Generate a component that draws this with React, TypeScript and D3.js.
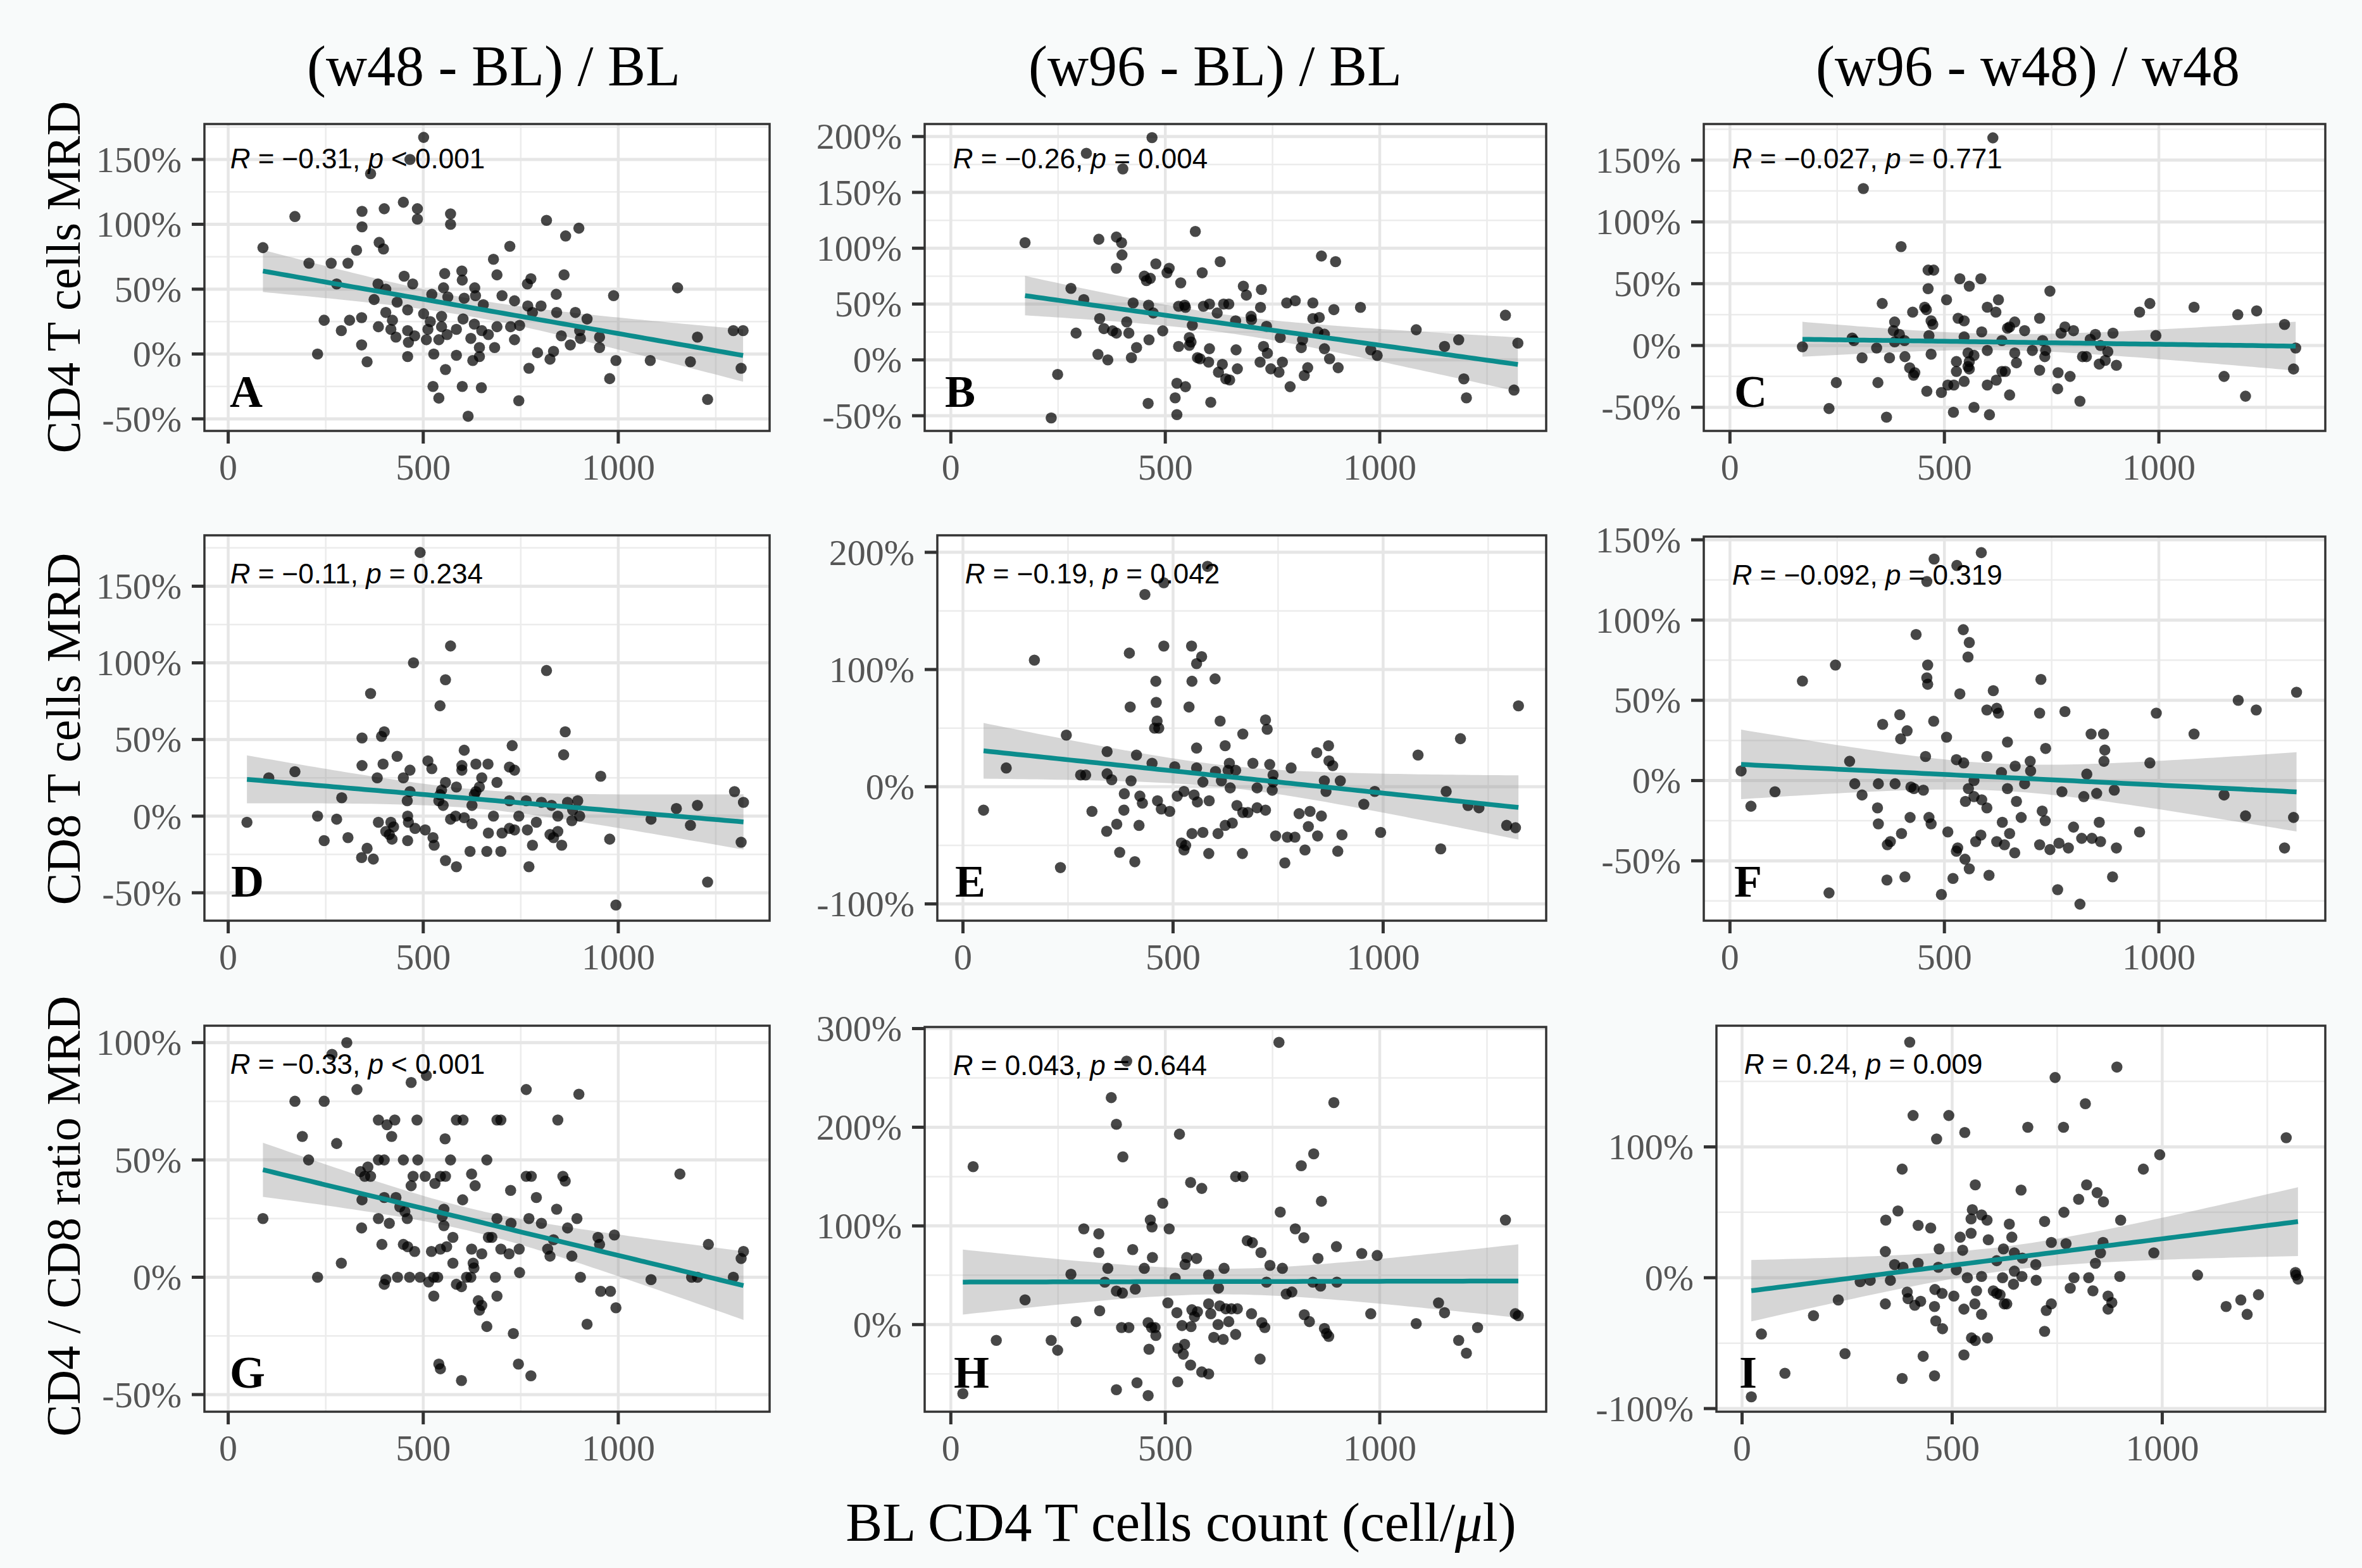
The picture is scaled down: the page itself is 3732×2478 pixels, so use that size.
import * as d3 from 'd3';

// ---- data ----
const X_DOMAIN: [number, number] = [-61, 1388];
const X_TICKS = [0, 500, 1000];
const X_MINOR = [250, 750, 1250];

const COL_TITLES = ['(w48 - BL) / BL', '(w96 - BL) / BL', '(w96 - w48) / w48'];
const ROW_LABELS = ['CD4 T cells MRD', 'CD8 T cells MRD', 'CD4 / CD8 ratio MRD'];
const X_TITLE = 'BL CD4 T cells count (cell/';
const PANEL_LETTERS = ['A', 'B', 'C', 'D', 'E', 'F', 'G', 'H', 'I'];
const STAT_R = ['−0.31', '−0.26', '−0.027', '−0.11', '−0.19', '−0.092', '−0.33', '0.043', '0.24'];
const STAT_P = ['< 0.001', '= 0.004', '= 0.771', '= 0.234', '= 0.042', '= 0.319', '< 0.001', '= 0.644', '= 0.009'];

const Y_DOMAINS: [number, number][] = [
  [-59.3, 177.3], [-63.6, 211.2], [-69.1, 179.2],
  [-68.2, 183.2], [-114.3, 214.5], [-87.3, 152],
  [-57.3, 107.2], [-88.3, 301.6], [-102.4, 192.6],
];
const Y_TICKS: number[][] = [
  [-50, 0, 50, 100, 150], [-50, 0, 50, 100, 150, 200], [-50, 0, 50, 100, 150],
  [-50, 0, 50, 100, 150], [-100, 0, 100, 200], [-50, 0, 50, 100, 150],
  [-50, 0, 50, 100], [0, 100, 200, 300], [-100, 0, 100],
];

type Pt = [number, number];

const ptsA: Pt[] = [
  [501, 167], [466, 150], [365, 139], [171, 106], [343, 110], [400, 112], [449, 117], [485, 112], [485, 104],
  [570, 108], [570, 100], [343, 98], [816, 103], [899, 97], [865, 91], [89, 82], [387, 86], [398, 81], [329, 80],
  [722, 83], [680, 73], [207, 70], [264, 70], [307, 70], [689, 61], [861, 61], [451, 60], [555, 62], [599, 64],
  [600, 57], [776, 58], [767, 54], [278, 54], [384, 54], [473, 54], [552, 51], [632, 51], [404, 50], [841, 46],
  [988, 45], [1152, 51], [374, 42], [522, 46], [563, 44], [605, 43], [634, 45], [702, 45], [734, 41], [433, 40],
  [460, 34], [501, 31], [654, 38], [768, 37], [802, 37], [780, 32], [842, 32], [890, 32], [920, 27], [404, 32],
  [342, 28], [311, 26], [246, 26], [290, 18], [385, 21], [421, 26], [417, 19], [430, 13], [460, 18], [462, 9],
  [478, 14], [518, 25], [547, 21], [561, 15], [540, 11], [585, 19], [602, 27], [631, 23], [622, 12], [650, 18],
  [667, 15], [689, 21], [724, 21], [747, 22], [734, 11], [683, 5], [644, 5], [854, 14], [877, 7], [903, 12],
  [952, 5], [834, 2], [793, 1], [901, 18], [952, 13], [342, 7], [229, 0], [356, -6], [460, -2], [527, 0],
  [585, -1], [627, -5], [644, -2], [557, -12], [771, -11], [825, -4], [994, -5], [1082, -5], [1185, -6],
  [1203, 13], [1295, 18], [1320, 18], [1315, -11], [978, -19], [525, -25], [600, -25], [649, -26], [540, -34],
  [745, -36], [1229, -35], [615, -48], [512, 19], [508, 11], [547, 29],
];

const ptsB: Pt[] = [
  [469, 199], [316, 185], [401, 171], [173, 105], [345, 108], [386, 110], [398, 105], [570, 115], [399, 94],
  [864, 93], [897, 88], [628, 88], [386, 82], [478, 86], [509, 82], [504, 78], [586, 78], [451, 75], [465, 73],
  [456, 71], [536, 69], [280, 64], [682, 66], [724, 63], [689, 58], [310, 54], [425, 51], [461, 49], [531, 48],
  [545, 49], [547, 47], [589, 48], [603, 50], [636, 50], [648, 50], [722, 47], [783, 51], [803, 53], [844, 51],
  [893, 45], [955, 47], [472, 42], [621, 42], [347, 37], [410, 34], [563, 31], [664, 35], [700, 39], [701, 36],
  [844, 37], [859, 38], [736, 30], [357, 28], [377, 26], [386, 24], [292, 24], [415, 24], [494, 26], [856, 25],
  [1085, 27], [768, 20], [820, 18], [871, 23], [462, 18], [556, 20], [560, 16], [556, 13], [1151, 12], [1184, 18],
  [1293, 40], [1322, 15], [433, 11], [421, 2], [343, 5], [366, 0], [531, 12], [603, 10], [665, 9], [729, 12],
  [738, 6], [817, 11], [871, 10], [979, 9], [994, 4], [575, 2], [581, 1], [601, -2], [633, -4], [668, -8],
  [624, -11], [641, -17], [650, -18], [721, -2], [746, -8], [765, -11], [773, -2], [832, -7], [824, -14], [883, 1],
  [903, -7], [791, -24], [249, -13], [527, -21], [547, -24], [523, -34], [460, -39], [606, -38], [527, -49],
  [234, -52], [1196, -17], [1202, -34], [1313, -27],
];

const ptsC: Pt[] = [
  [613, 168], [311, 127], [399, 80], [462, 61], [475, 61], [536, 54], [585, 54], [558, 48], [462, 46], [746, 44],
  [355, 34], [505, 37], [626, 37], [600, 31], [620, 27], [454, 31], [426, 27], [458, 29], [955, 27], [979, 34],
  [1082, 31], [1184, 25], [1228, 28], [722, 22], [532, 22], [546, 20], [384, 19], [469, 20], [473, 17], [664, 19],
  [652, 15], [647, 14], [687, 12], [781, 15], [801, 12], [772, 10], [852, 9], [893, 10], [993, 8], [1293, 17],
  [587, 11], [546, 7], [381, 12], [395, 9], [407, 4], [384, 3], [285, 6], [289, 4], [464, 8], [634, 4], [729, 4],
  [840, 5], [864, 0], [169, -1], [342, -2], [308, -10], [372, -10], [408, -9], [469, -7], [555, -6], [600, -4],
  [664, -6], [705, -4], [736, -4], [734, -9], [668, -14], [569, -8], [558, -13], [528, -13], [555, -17], [558, -19],
  [528, -21], [419, -18], [431, -22], [428, -24], [634, -21], [642, -21], [722, -20], [822, -9], [831, -9],
  [861, -15], [875, -12], [901, -16], [881, -5], [1319, -2], [1314, -19], [1152, -25], [1202, -41], [765, -22],
  [793, -25], [764, -35], [652, -40], [621, -28], [600, -32], [546, -29], [522, -32], [508, -32], [493, -38],
  [459, -37], [345, -30], [248, -30], [231, -51], [365, -58], [521, -54], [569, -50], [605, -56], [816, -45],
];

const ptsD: Pt[] = [
  [492, 172], [570, 111], [475, 100], [816, 95], [557, 89], [365, 80], [543, 72], [864, 55], [400, 55], [393, 52],
  [343, 51], [728, 46], [605, 43], [860, 40], [433, 39], [343, 33], [397, 34], [512, 36], [522, 31], [466, 30],
  [599, 33], [599, 30], [635, 34], [666, 34], [721, 32], [734, 30], [171, 29], [104, 25], [382, 25], [449, 25],
  [650, 25], [689, 22], [955, 26], [557, 22], [585, 19], [547, 17], [543, 14], [644, 19], [635, 16], [631, 14],
  [466, 16], [459, 10], [291, 12], [540, 10], [551, 7], [625, 7], [721, 10], [764, 10], [803, 9], [829, 7],
  [870, 9], [896, 10], [883, 4], [901, 0], [881, -3], [1149, 5], [1203, 7], [1298, 16], [1321, 9], [1084, -2],
  [1185, -6], [229, 0], [48, -4], [278, -2], [385, -4], [417, -4], [424, -7], [460, 0], [462, -4], [479, -8],
  [505, -9], [570, -2], [583, 0], [605, -1], [625, -5], [680, 0], [745, 0], [790, -4], [845, 0], [721, -8],
  [734, -9], [702, -11], [667, -11], [767, -9], [825, -12], [834, -14], [845, -10], [855, -19], [780, -19],
  [978, -15], [1315, -17], [307, -14], [246, -16], [404, -10], [413, -12], [420, -15], [460, -16], [525, -14],
  [528, -19], [620, -23], [663, -23], [699, -23], [356, -21], [342, -27], [372, -28], [557, -29], [585, -33],
  [771, -33], [1229, -43], [994, -58],
];

const ptsE: Pt[] = [
  [582, 188], [478, 174], [433, 164], [478, 120], [544, 120], [396, 114], [568, 111], [170, 108], [556, 105],
  [459, 90], [545, 90], [600, 92], [460, 72], [398, 68], [538, 68], [1322, 69], [462, 56], [466, 50], [456, 50],
  [720, 57], [612, 56], [724, 49], [246, 44], [666, 45], [1184, 41], [556, 33], [624, 35], [870, 35], [842, 29],
  [343, 30], [413, 27], [1083, 27], [871, 22], [880, 18], [450, 20], [504, 17], [556, 16], [634, 20], [690, 20],
  [730, 19], [781, 16], [103, 16], [280, 10], [292, 10], [343, 11], [354, 6], [400, 5], [601, 13], [631, 14],
  [649, 14], [615, 5], [571, 4], [738, 10], [738, 4], [860, 5], [898, 5], [864, -4], [636, -1], [700, -1],
  [736, -3], [384, -6], [421, -8], [427, -14], [463, -12], [510, -8], [526, -4], [550, -7], [558, -13], [586, -12],
  [472, -19], [492, -21], [307, -21], [383, -20], [366, -32], [342, -38], [419, -33], [652, -16], [666, -22],
  [678, -22], [700, -18], [720, -20], [624, -33], [641, -31], [800, -23], [826, -21], [853, -25], [822, -34],
  [844, -42], [772, -43], [744, -42], [790, -43], [902, -41], [954, -15], [980, -4], [1150, -4], [1202, -16],
  [1228, -18], [1294, -33], [1315, -35], [994, -39], [545, -40], [571, -39], [607, -40], [520, -48], [526, -54],
  [530, -50], [814, -54], [892, -55], [585, -57], [665, -57], [373, -56], [409, -64], [766, -65], [232, -69],
  [1137, -53], [49, -20],
];

const ptsF: Pt[] = [
  [586, 142], [476, 138], [529, 134], [459, 124], [434, 91], [544, 94], [558, 86], [555, 77], [246, 72], [461, 72],
  [459, 64], [461, 60], [169, 62], [725, 63], [536, 54], [614, 56], [1321, 55], [1185, 50], [599, 44], [622, 45],
  [626, 42], [722, 42], [781, 43], [994, 42], [1227, 44], [396, 41], [475, 37], [356, 35], [413, 31], [398, 26],
  [505, 27], [842, 29], [871, 29], [1082, 29], [647, 24], [736, 20], [874, 19], [456, 15], [599, 15], [528, 13],
  [545, 11], [279, 12], [700, 12], [872, 12], [979, 11], [665, 9], [701, 6], [633, 5], [832, 4], [26, 6],
  [291, -2], [346, -2], [385, -2], [422, -4], [429, -5], [451, -6], [308, -9], [105, -7], [49, -16], [569, 0],
  [556, -5], [647, -5], [687, -2], [774, -7], [855, -8], [825, -10], [896, -6], [1152, -9], [569, -10], [587, -12],
  [549, -13], [668, -13], [599, -17], [344, -17], [728, -19], [420, -23], [464, -23], [469, -27], [679, -23],
  [635, -26], [735, -25], [861, -26], [801, -29], [346, -27], [1202, -22], [1314, -23], [508, -32], [400, -33],
  [374, -38], [367, -40], [652, -33], [585, -34], [573, -38], [622, -38], [640, -40], [722, -40], [767, -39],
  [789, -42], [746, -43], [820, -36], [844, -36], [864, -38], [901, -42], [955, -32], [1293, -42], [531, -42],
  [528, -44], [548, -49], [558, -55], [664, -45], [520, -61], [604, -59], [408, -60], [366, -62], [892, -60],
  [231, -70], [493, -71], [764, -68], [816, -77],
];

const ptsG: Pt[] = [
  [304, 100], [266, 95], [469, 83], [508, 86], [330, 80], [764, 80], [899, 78], [171, 75], [246, 75], [385, 67],
  [407, 65], [427, 67], [484, 67], [585, 67], [602, 67], [689, 67], [699, 67], [845, 67], [190, 60], [419, 60],
  [278, 57], [556, 59], [206, 50], [385, 50], [400, 50], [449, 50], [486, 50], [570, 50], [663, 50], [339, 45],
  [350, 43], [365, 43], [358, 47], [474, 43], [505, 43], [544, 43], [557, 43], [624, 44], [633, 39], [530, 40],
  [469, 39], [764, 43], [777, 43], [858, 43], [864, 41], [1158, 44], [724, 37], [790, 34], [601, 33], [343, 33],
  [400, 34], [430, 34], [440, 30], [453, 28], [842, 29], [894, 25], [870, 21], [553, 29], [549, 26], [689, 25],
  [725, 23], [771, 25], [803, 23], [385, 25], [413, 23], [459, 25], [553, 22], [342, 21], [576, 17], [667, 17],
  [676, 17], [834, 16], [948, 17], [952, 14], [990, 18], [394, 14], [449, 14], [460, 13], [478, 11], [521, 11],
  [544, 12], [560, 13], [624, 12], [650, 10], [699, 12], [720, 10], [746, 12], [819, 12], [825, 9], [881, 9],
  [1231, 14], [1321, 11], [1315, 8], [290, 6], [576, 6], [628, 6], [630, 4], [229, 0], [400, -3], [404, -1],
  [434, 0], [465, 0], [492, 0], [514, -2], [527, 0], [537, 0], [585, -3], [598, -4], [611, 0], [622, 0], [685, 0],
  [747, 2], [903, 0], [1084, -1], [1188, 0], [1203, 0], [1295, 0], [527, -8], [641, -10], [689, -8], [644, -14],
  [650, -12], [955, -6], [980, -6], [994, -13], [663, -21], [731, -24], [920, -20], [540, -37], [544, -39],
  [744, -37], [776, -42], [598, -44], [89, 25],
];

const ptsH: Pt[] = [
  [765, 286], [410, 267], [374, 230], [893, 225], [386, 203], [533, 193], [401, 170], [846, 173], [817, 161],
  [52, 160], [664, 150], [681, 150], [559, 144], [585, 138], [864, 125], [494, 123], [768, 114], [465, 106],
  [469, 99], [1293, 106], [310, 97], [345, 92], [509, 97], [803, 97], [823, 88], [691, 85], [703, 83], [424, 76],
  [899, 79], [345, 73], [723, 73], [958, 72], [994, 70], [470, 68], [550, 68], [573, 67], [856, 67], [546, 61],
  [744, 60], [366, 57], [451, 57], [637, 57], [773, 57], [280, 51], [601, 50], [523, 47], [359, 43], [736, 43],
  [844, 43], [862, 39], [900, 43], [624, 37], [430, 36], [386, 34], [400, 32], [782, 31], [795, 33], [173, 25],
  [506, 22], [601, 21], [1137, 22], [627, 19], [641, 16], [654, 16], [668, 16], [562, 15], [575, 13], [347, 14],
  [527, 12], [568, 8], [606, 11], [648, 3], [701, 11], [1151, 12], [979, 11], [824, 10], [836, 3], [1316, 11],
  [1323, 9], [292, 3], [725, 2], [732, -3], [1085, 1], [460, 2], [468, -3], [476, -3], [539, -1], [560, -2],
  [623, 0], [398, -3], [415, -3], [478, -11], [871, -4], [876, -9], [881, -12], [1228, -3], [613, -13], [635, -15],
  [664, -10], [106, -16], [234, -16], [249, -26], [462, -25], [529, -24], [545, -20], [542, -30], [559, -41],
  [1184, -16], [1202, -29], [721, -35], [585, -48], [601, -50], [434, -59], [529, -58], [386, -66], [460, -72],
  [28, -70],
];

const ptsI: Pt[] = [
  [399, 180], [892, 161], [745, 153], [817, 133], [407, 124], [492, 124], [680, 115], [765, 115], [530, 111],
  [463, 106], [1295, 107], [994, 94], [381, 83], [955, 83], [555, 71], [820, 71], [664, 67], [845, 65], [801, 60],
  [860, 58], [548, 52], [371, 51], [766, 50], [570, 48], [545, 45], [342, 44], [583, 44], [720, 43], [901, 44],
  [636, 41], [419, 40], [449, 38], [545, 34], [519, 31], [586, 29], [642, 31], [736, 27], [771, 26], [859, 27],
  [525, 21], [469, 22], [622, 22], [341, 20], [853, 19], [980, 19], [648, 19], [667, 15], [606, 13], [699, 10],
  [363, 10], [383, 8], [419, 11], [467, 8], [510, 6], [648, 5], [841, 11], [1084, 2], [1317, 4], [1323, -1],
  [353, -2], [281, -3], [305, -2], [536, 0], [570, 1], [620, 0], [666, 1], [700, -2], [790, 0], [825, 0], [899, 1],
  [781, -8], [646, -5], [459, -9], [476, -12], [504, -14], [558, -10], [598, -10], [606, -12], [393, -11],
  [395, -16], [411, -21], [425, -18], [614, -13], [624, -20], [630, -20], [835, -10], [871, -14], [880, -19],
  [871, -24], [736, -20], [724, -25], [554, -20], [528, -24], [570, -28], [341, -20], [229, -17], [170, -29],
  [458, -22], [461, -33], [477, -39], [720, -41], [546, -46], [555, -48], [584, -46], [1152, -22], [1187, -17],
  [1202, -28], [1229, -13], [46, -43], [245, -58], [431, -60], [528, -59], [102, -73], [381, -77], [458, -75],
  [22, -91], [1318, 2],
];

const PANEL_POINTS = [ptsA, ptsB, ptsC, ptsD, ptsE, ptsF, ptsG, ptsH, ptsI];

// ---- layout ----
const W = 3732;
const H = 2478;
const BOXES = [
  { x0: 323, x1: 1216, y0: 196, y1: 681 },
  { x0: 1461, x1: 2443, y0: 196, y1: 681 },
  { x0: 2692, x1: 3674, y0: 196, y1: 681 },
  { x0: 323, x1: 1216, y0: 846, y1: 1455 },
  { x0: 1481, x1: 2443, y0: 846, y1: 1455 },
  { x0: 2692, x1: 3674, y0: 848, y1: 1455 },
  { x0: 323, x1: 1216, y0: 1621, y1: 2231 },
  { x0: 1461, x1: 2443, y0: 1623, y1: 2231 },
  { x0: 2712, x1: 3674, y0: 1621, y1: 2231 },
];
const LETTER_DX = [40, 32, 48, 42, 28, 48, 40, 46, 36];
const TITLE_X = [780, 1920, 3204];
const ROW_Y = [438, 1152, 1922];

const SERIF = '"Liberation Serif", "Times New Roman", serif';
const SANS = '"Liberation Sans", Arial, sans-serif';
const TEAL = '#0b8c8c';

// lm fit with 95% confidence band, as geom_smooth(method = "lm")
function smooth(pts: Pt[]) {
  const n = pts.length;
  const mx = d3.mean(pts, d => d[0]) as number;
  const my = d3.mean(pts, d => d[1]) as number;
  const sxx = d3.sum(pts, d => (d[0] - mx) ** 2);
  const sxy = d3.sum(pts, d => (d[0] - mx) * (d[1] - my));
  const b = sxy / sxx;
  const a = my - b * mx;
  const s = Math.sqrt(d3.sum(pts, d => (d[1] - a - b * d[0]) ** 2) / (n - 2));
  const t = 1.98;
  const [lo, hi] = d3.extent(pts, d => d[0]) as [number, number];
  return d3.range(81).map(i => {
    const x = lo + ((hi - lo) * i) / 80;
    const se = s * Math.sqrt(1 / n + (x - mx) ** 2 / sxx);
    const y = a + b * x;
    return { x, y, lo: y - t * se, hi: y + t * se };
  });
}

function minorTicks(ticks: number[], domain: [number, number]) {
  const step = ticks[1] - ticks[0];
  const out: number[] = [];
  for (let v = ticks[0] - step / 2; v <= domain[1]; v += step) {
    if (v >= domain[0]) out.push(v);
  }
  return out;
}

function Panel({ i }: { i: number }) {
  const box = BOXES[i];
  const pts = PANEL_POINTS[i];
  const x = d3.scaleLinear().domain(X_DOMAIN).range([box.x0, box.x1]);
  const y = d3.scaleLinear().domain(Y_DOMAINS[i]).range([box.y1, box.y0]);
  const fit = smooth(pts);
  const band = d3.area<{ x: number; lo: number; hi: number }>()
    .x(d => x(d.x))
    .y0(d => y(d.lo))
    .y1(d => y(d.hi));
  const line = d3.line<{ x: number; y: number }>()
    .x(d => x(d.x))
    .y(d => y(d.y));
  const yTicks = Y_TICKS[i];
  const yMinor = minorTicks(yTicks, Y_DOMAINS[i]);
  const statY = box.y0 + (i < 3 ? 70 : 76);

  return (
    <g>
      <rect x={box.x0} y={box.y0} width={box.x1 - box.x0} height={box.y1 - box.y0} fill="#ffffff" />
      {yMinor.map(v => (
        <line key={'ym' + v} x1={box.x0} x2={box.x1} y1={y(v)} y2={y(v)} stroke="#ececec" strokeWidth={2.5} />
      ))}
      {X_MINOR.map(v => (
        <line key={'xm' + v} x1={x(v)} x2={x(v)} y1={box.y0} y2={box.y1} stroke="#ececec" strokeWidth={2.5} />
      ))}
      {yTicks.map(v => (
        <line key={'yg' + v} x1={box.x0} x2={box.x1} y1={y(v)} y2={y(v)} stroke="#e6e6e6" strokeWidth={5} />
      ))}
      {X_TICKS.map(v => (
        <line key={'xg' + v} x1={x(v)} x2={x(v)} y1={box.y0} y2={box.y1} stroke="#e6e6e6" strokeWidth={4.5} />
      ))}

      <path d={band(fit) || ''} fill="#999999" fillOpacity={0.4} />

      {pts.map((d, k) => (
        <circle key={k} cx={x(d[0])} cy={y(d[1])} r={8.8} fill="#000000" fillOpacity={0.72} />
      ))}

      <path d={line(fit) || ''} fill="none" stroke={TEAL} strokeWidth={7.5} />

      <rect x={box.x0} y={box.y0} width={box.x1 - box.x0} height={box.y1 - box.y0}
        fill="none" stroke="#333333" strokeWidth={3.5} />

      {yTicks.map(v => (
        <g key={'yt' + v}>
          <line x1={box.x0 - 20} x2={box.x0} y1={y(v)} y2={y(v)} stroke="#333333" strokeWidth={5} />
          <text x={box.x0 - 36} y={y(v)} dy="0.34em" textAnchor="end" fontFamily={SERIF}
            fontSize={58} fill="#555555">{v}%</text>
        </g>
      ))}
      {X_TICKS.map(v => (
        <g key={'xt' + v}>
          <line x1={x(v)} x2={x(v)} y1={box.y1} y2={box.y1 + 20} stroke="#333333" strokeWidth={5} />
          <text x={x(v)} y={box.y1 + 77} textAnchor="middle" fontFamily={SERIF}
            fontSize={58} fill="#555555">{v}</text>
        </g>
      ))}

      <text x={x(5)} y={statY} fontFamily={SANS} fontSize={44} fill="#000000">
        <tspan fontStyle="italic">R</tspan>
        {` = ${STAT_R[i]}, `}
        <tspan fontStyle="italic">p</tspan>
        {` ${STAT_P[i]}`}
      </text>

      <text x={box.x0 + LETTER_DX[i]} y={box.y1 - 38} fontFamily={SERIF} fontWeight="bold"
        fontSize={72} fill="#000000">{PANEL_LETTERS[i]}</text>
    </g>
  );
}

export default function App() {
  return (
    <svg width={W} height={H} viewBox={`0 0 ${W} ${H}`}
      style={{ position: 'absolute', left: 0, top: 0, display: 'block' }}>
      <rect x={0} y={0} width={W} height={H} fill="#f8fafa" />

      {COL_TITLES.map((t, c) => (
        <text key={t} x={TITLE_X[c]} y={135} textAnchor="middle" fontFamily={SERIF}
          fontSize={90} fill="#000000">{t}</text>
      ))}

      {ROW_LABELS.map((t, r) => (
        <text key={t} transform={`translate(126, ${ROW_Y[r]}) rotate(-90)`} textAnchor="middle"
          fontFamily={SERIF} fontSize={76} fill="#000000">{t}</text>
      ))}

      {PANEL_LETTERS.map((_, i) => <Panel key={i} i={i} />)}

      <text x={1866} y={2435} textAnchor="middle" fontFamily={SERIF} fontSize={87} fill="#000000">
        {X_TITLE}<tspan fontStyle="italic">μ</tspan>l)
      </text>
    </svg>
  );
}
